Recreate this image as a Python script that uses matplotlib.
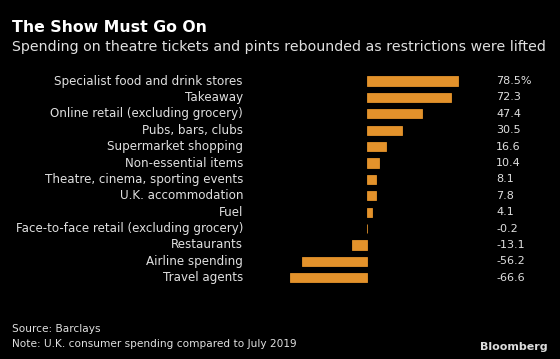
import matplotlib
matplotlib.use('Agg')
import matplotlib.pyplot as plt
import matplotlib.transforms as mtransforms

categories = ['Specialist food and drink stores', 'Takeaway', 'Online retail (excluding grocery)',
              'Pubs, bars, clubs', 'Supermarket shopping', 'Non-essential items',
              'Theatre, cinema, sporting events', 'U.K. accommodation', 'Fuel',
              'Face-to-face retail (excluding grocery)', 'Restaurants', 'Airline spending',
              'Travel agents']
values = [78.5, 72.3, 47.4, 30.5, 16.6, 10.4, 8.1, 7.8, 4.1, -0.2, -13.1, -56.2, -66.6]
value_labels = ['78.5%', '72.3', '47.4', '30.5', '16.6', '10.4', '8.1', '7.8', '4.1',
                '-0.2', '-13.1', '-56.2', '-66.6']

W, H = 560, 359
bg = 'black'
orange = '#e3922b'
txt = '#e0e0e0'

fig = plt.figure(figsize=(W / 100, H / 100), dpi=100, facecolor=bg)

# axes placed in pixel terms: zero line at x=367, 1.16 px per unit, rows 16.4 px apart from y=81
ax_l, ax_r, ax_t, ax_b = 280, 470, 65, 300
ax = fig.add_axes([ax_l / W, 1 - ax_b / H, (ax_r - ax_l) / W, (ax_b - ax_t) / H])
ax.set_facecolor(bg)
ax.set_xlim((ax_l - 367) / 1.16, (ax_r - 367) / 1.16)
ax.set_ylim((ax_b - 81) / 16.4, (ax_t - 81) / 16.4)
ax.axis('off')

pos = list(range(len(categories)))
# thin edge so the tiny -0.2 bar still shows as a sliver
ax.barh(pos, values, height=0.56, color=orange, edgecolor=orange, linewidth=0.6, left=0)

trans = mtransforms.blended_transform_factory(fig.transFigure, ax.transData)
for i, (c, lab) in enumerate(zip(categories, value_labels)):
    ax.text(243 / W, i, c, transform=trans, ha='right', va='center', color=txt, fontsize=8.6)
    ax.text(496 / W, i, lab, transform=trans, ha='left', va='center', color=txt, fontsize=8.0)

fig.text(12 / W, 1 - 27 / H, 'The Show Must Go On', color='white', fontsize=11.3,
         fontweight='bold', ha='left', va='center')
fig.text(12 / W, 1 - 47 / H, 'Spending on theatre tickets and pints rebounded as restrictions were lifted',
         color=txt, fontsize=10.2, ha='left', va='center')
fig.text(12 / W, 1 - 329 / H, 'Source: Barclays', color=txt, fontsize=7.6, ha='left', va='center')
fig.text(12 / W, 1 - 344 / H, 'Note: U.K. consumer spending compared to July 2019', color=txt,
         fontsize=7.6, ha='left', va='center')
fig.text(548 / W, 1 - 347 / H, 'Bloomberg', color='#dddddd', fontsize=8, fontweight='bold',
         ha='right', va='center')

fig.savefig('out.png', dpi=100, facecolor=bg)
